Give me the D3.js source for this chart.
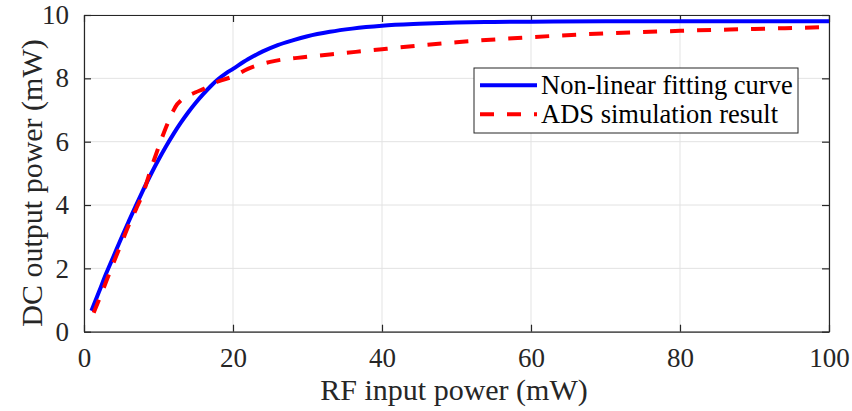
<!DOCTYPE html>
<html>
<head>
<meta charset="utf-8">
<script src="https://cdn.jsdelivr.net/npm/d3@7"></script>
<style>
  body { margin: 0; background: #fff; }
  text { font-family: "Liberation Serif", "Times New Roman", serif; fill: #262626; }
</style>
</head>
<body>
<svg id="chart" width="852" height="411"></svg>
<script>
// fitting curve
var fitX = [1, 2, 3, 4, 5, 6, 7, 8, 9, 10, 11, 12, 13, 14, 15, 16, 17, 18, 19, 20, 22, 24, 26, 28, 30, 33, 36, 40, 45, 50, 55, 60, 70, 80, 90, 100];
var fitY = [0.66, 1.25, 1.85, 2.4, 2.95, 3.48, 4.0, 4.5, 4.98, 5.43, 5.85, 6.24, 6.6, 6.93, 7.23, 7.5, 7.75, 7.97, 8.15, 8.3, 8.6, 8.85, 9.05, 9.2, 9.33, 9.47, 9.57, 9.66, 9.72, 9.76, 9.78, 9.79, 9.8, 9.8, 9.8, 9.8];

// ADS simulation result
var adsX = [1.3, 2, 3, 4, 5, 6, 7, 8, 9, 10, 11, 12, 12.5, 13, 14, 15, 16, 18, 20, 22, 25, 30, 35, 40, 50, 60, 70, 80, 90, 100];
var adsY = [0.6, 1.0, 1.6, 2.2, 2.78, 3.36, 3.88, 4.42, 5.15, 5.82, 6.45, 6.98, 7.18, 7.3, 7.45, 7.56, 7.66, 7.9, 8.06, 8.3, 8.52, 8.68, 8.8, 8.92, 9.14, 9.3, 9.42, 9.5, 9.56, 9.62];

var xTicks = [0, 20, 40, 60, 80, 100];
var yTicks = [0, 2, 4, 6, 8, 10];
var legendLabels = ["Non-linear fitting curve", "ADS simulation result"];

var svg = d3.select("#chart");
var pLeft = 84, pTop = 15, pRight = 829, pBottom = 331.7;

var x = d3.scaleLinear().domain([0, 100]).range([pLeft, pRight]);
var y = d3.scaleLinear().domain([0, 10]).range([pBottom, pTop]);

// grid
svg.append("g").selectAll("line").data(xTicks).enter().append("line")
    .attr("x1", d => x(d)).attr("x2", d => x(d))
    .attr("y1", pTop).attr("y2", pBottom)
    .style("stroke", "#e3e3e3").style("stroke-width", 1);
svg.append("g").selectAll("line").data(yTicks).enter().append("line")
    .attr("x1", pLeft).attr("x2", pRight)
    .attr("y1", d => y(d)).attr("y2", d => y(d))
    .style("stroke", "#e3e3e3").style("stroke-width", 1);

// axes (ticks inside, box)
var xAxis = d3.axisBottom(x).tickValues(xTicks).tickSizeInner(-7).tickSizeOuter(0).tickPadding(16);
var yAxis = d3.axisLeft(y).tickValues(yTicks).tickSizeInner(-7).tickSizeOuter(0).tickPadding(15);
var gx = svg.append("g").attr("transform", "translate(0," + pBottom + ")").call(xAxis);
var gy = svg.append("g").attr("transform", "translate(" + pLeft + ",0)").call(yAxis);
var gxTop = svg.append("g").attr("transform", "translate(0," + pTop + ")")
    .call(d3.axisTop(x).tickValues(xTicks).tickSizeInner(-7).tickSizeOuter(0).tickFormat(""));
var gyRight = svg.append("g").attr("transform", "translate(" + pRight + ",0)")
    .call(d3.axisRight(y).tickValues(yTicks).tickSizeInner(-7).tickSizeOuter(0).tickFormat(""));
[gx, gy, gxTop, gyRight].forEach(function(g) {
    g.select(".domain").style("stroke", "#262626").style("stroke-width", 1.2);
    g.selectAll(".tick line").style("stroke", "#262626").style("stroke-width", 1.2);
    g.selectAll(".tick text").style("font-family", "Liberation Serif").style("font-size", "27px").style("fill", "#262626");
});

// curves
var line = d3.line().x(d => x(d[0])).y(d => y(d[1])).curve(d3.curveMonotoneX);
svg.append("path")
    .datum(d3.zip(fitX, fitY))
    .attr("d", line)
    .style("fill", "none").style("stroke", "#0000ff").style("stroke-width", 4);
svg.append("path")
    .datum(d3.zip(adsX, adsY))
    .attr("d", line)
    .style("fill", "none").style("stroke", "#ff0000").style("stroke-width", 4)
    .style("stroke-dasharray", "14,13");

// axis labels
svg.append("text")
    .attr("x", 454).attr("y", 400)
    .attr("text-anchor", "middle")
    .style("font-size", "30px")
    .text("RF input power (mW)");
svg.append("text")
    .attr("transform", "translate(42,183) rotate(-90)")
    .attr("text-anchor", "middle")
    .style("font-size", "30px")
    .text("DC output power (mW)");

// legend
var legend = svg.append("g");
legend.append("rect")
    .attr("x", 474).attr("y", 68).attr("width", 324).attr("height", 65)
    .style("fill", "#fff").style("stroke", "#262626").style("stroke-width", 1);
var legendColors = ["#0000ff", "#ff0000"];
var legendDash = [null, "14,13"];
legendLabels.forEach(function(lbl, i) {
    var ly = 85.3 + i * 29;
    legend.append("line")
        .attr("x1", 480).attr("x2", 537).attr("y1", ly).attr("y2", ly)
        .style("stroke", legendColors[i]).style("stroke-width", 4)
        .style("stroke-dasharray", legendDash[i]);
    legend.append("text")
        .attr("x", 541).attr("y", ly + 9)
        .style("font-size", "26.5px").style("fill", "#000")
        .text(lbl);
});
</script>
</body>
</html>
